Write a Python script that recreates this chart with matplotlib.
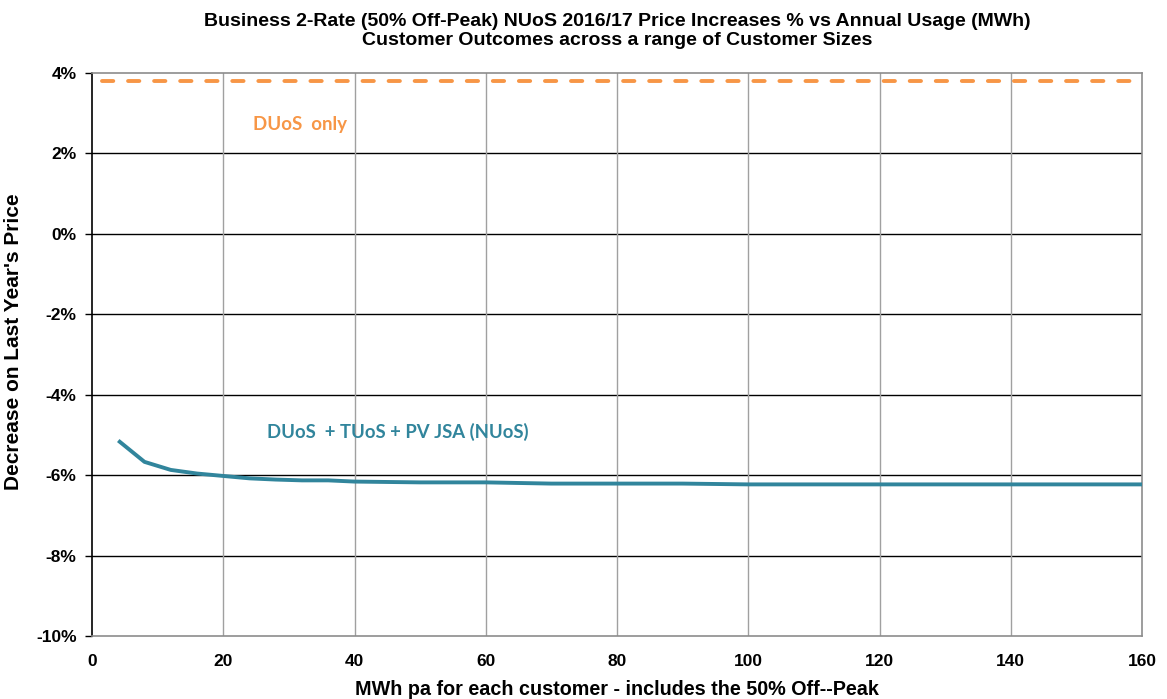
import matplotlib
matplotlib.use("Agg")
import matplotlib.pyplot as plt
from matplotlib.ticker import FuncFormatter

# Annual usage (MWh) and price change (%) for the combined network tariff
usage_mwh = [4, 8, 12, 16, 20, 24, 28, 32, 36, 40, 50, 60, 70, 80, 90, 100, 110, 120, 130, 140, 150, 160]
nuos_pct = [-5.14, -5.67, -5.87, -5.96, -6.02, -6.08, -6.11, -6.13, -6.13, -6.16, -6.18, -6.18,
            -6.21, -6.21, -6.21, -6.23, -6.23, -6.23, -6.23, -6.23, -6.23, -6.23]

# Distribution-only change is flat across customer sizes
duos_x = [1.5, 160]
duos_pct = [3.8, 3.8]

x_ticks = [0, 20, 40, 60, 80, 100, 120, 140, 160]
y_ticks = [-10, -8, -6, -4, -2, 0, 2, 4]

title = ("Business 2-Rate (50% Off-Peak) NUoS 2016/17 Price Increases % vs Annual Usage (MWh)\n"
         "Customer Outcomes across a range of Customer Sizes")
x_label = "MWh pa for each customer - includes the 50% Off--Peak"
y_label = "Decrease on Last Year's Price"
duos_label = "DUoS  only"
nuos_label = "DUoS  + TUoS + PV JSA (NUoS)"

ORANGE = "#F79646"
TEAL = "#31859C"

plt.rcParams["font.family"] = ["Liberation Sans", "DejaVu Sans"]

fig = plt.figure(figsize=(11.67, 6.99), dpi=100)
ax = fig.add_axes([92 / 1167, 1 - 636 / 699, (1142 - 92) / 1167, (636 - 73) / 699])

ax.set_xlim(0, 160)
ax.set_ylim(-10, 4)
ax.set_xticks(x_ticks)
ax.set_yticks(y_ticks)

# Grid: black horizontals, grey verticals
for y in y_ticks[1:-1]:
    ax.axhline(y, color="black", lw=1.0, zorder=1)
for x in x_ticks[1:-1]:
    ax.axvline(x, color="#A0A0A0", lw=1.0, zorder=1)

ax.plot(duos_x, duos_pct, color=ORANGE, lw=2.8, linestyle=(0, (2.9, 3.8)),
        dash_capstyle="round", zorder=3)
ax.plot(usage_mwh, nuos_pct, color=TEAL, lw=2.8, zorder=3, solid_capstyle="butt")

ax.yaxis.set_major_formatter(FuncFormatter(lambda v, p: f"{v:.0f}%"))
ax.tick_params(axis="y", direction="out", length=5, width=1, pad=6, labelsize=12.5)
ax.tick_params(axis="x", length=0, pad=13, labelsize=12.5)
for lab in ax.get_xticklabels() + ax.get_yticklabels():
    lab.set_fontweight("bold")

for side in ["top", "right", "bottom"]:
    ax.spines[side].set_color("#8C8C8C")
    ax.spines[side].set_linewidth(1.2)
ax.spines["left"].set_color("black")
ax.spines["left"].set_linewidth(1.2)

ax.set_xlabel(x_label, fontsize=14.2, fontweight="bold", labelpad=8)
ax.set_ylabel(y_label, fontsize=15, fontweight="bold", labelpad=9)
ax.yaxis.set_label_coords(-0.066, 0.522)

fig.text(617 / 1167, 1 - 31 / 699, title, ha="center", va="center", fontsize=14,
         fontweight="bold", linespacing=1.2)

ax.text(24.5, 2.73, duos_label, color=ORANGE, fontsize=13.5, fontweight="bold",
        family=["Lato", "DejaVu Sans"], va="center", ha="left")
ax.text(26.7, -4.92, nuos_label, color=TEAL, fontsize=13.3, fontweight="bold",
        family=["Lato", "DejaVu Sans"], va="center", ha="left")

fig.savefig("out.png", dpi=100)
